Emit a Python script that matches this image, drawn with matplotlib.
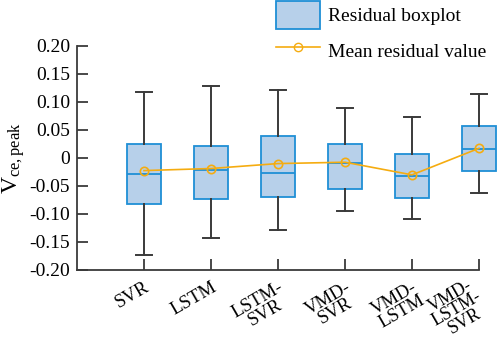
import matplotlib
matplotlib.use("Agg")
import matplotlib.pyplot as plt
import matplotlib.transforms as mtransforms
from matplotlib.patches import Patch
from matplotlib.lines import Line2D

plt.rcParams['font.family'] = ['Liberation Serif', 'DejaVu Serif']
plt.rcParams['mathtext.fontset'] = 'custom'
plt.rcParams['mathtext.rm'] = 'Liberation Serif'
plt.rcParams['mathtext.it'] = 'Liberation Serif:italic'

categories = ["SVR", "LSTM", "LSTM-\nSVR", "VMD-\nSVR", "VMD-\nLSTM", "VMD-\nLSTM-\nSVR"]
whisker_low = [-0.174, -0.143, -0.128, -0.094, -0.109, -0.063]
q1 = [-0.083, -0.0726, -0.070, -0.0548, -0.0714, -0.0227]
median = [-0.029, -0.021, -0.0268, -0.0100, -0.0316, 0.0166]
q3 = [0.0255, 0.022, 0.0398, 0.0243, 0.0077, 0.0564]
whisker_high = [0.117, 0.128, 0.121, 0.0897, 0.0724, 0.114]
mean_vals = [-0.0227, -0.019, -0.0102, -0.0078, -0.0303, 0.017]
yticks = [-0.20, -0.15, -0.10, -0.05, 0, 0.05, 0.10, 0.15, 0.20]
ytick_labels = ["-0.20", "-0.15", "-0.10", "-0.05", "0", "0.05", "0.10", "0.15", "0.20"]

face = '#b7d0ea'
edge = '#1f8fd6'
orange = '#f5ac10'
dark = '#3a3a3a'

fig = plt.figure(figsize=(4.98, 3.42), dpi=100)
ax = fig.add_axes([77/498, 1-270/342, (479-77)/498, (270-45.7)/342])

positions = list(range(1, len(categories) + 1))
stats = []
for i in range(len(categories)):
    stats.append(dict(whislo=whisker_low[i], q1=q1[i], med=median[i], q3=q3[i],
                      whishi=whisker_high[i], fliers=[]))
bp = ax.bxp(stats, positions=positions, widths=0.52, patch_artist=True, showfliers=False,
            boxprops=dict(facecolor=face, edgecolor=edge, linewidth=1.3),
            medianprops=dict(color=edge, linewidth=1.3),
            whiskerprops=dict(color=dark, linewidth=1.4),
            capprops=dict(color=dark, linewidth=1.4),
            capwidths=0.23, zorder=2)
for key in bp:
    for art in bp[key]:
        art.set_clip_on(False)
ln, = ax.plot(positions, mean_vals, color=orange, linewidth=1.2, marker='o', markersize=6,
              markerfacecolor='none', markeredgecolor=orange, markeredgewidth=1.2, zorder=4)
ln.set_clip_on(False)

ax.set_xlim(0, 6)
ax.set_ylim(-0.2, 0.2)
ax.set_yticks(yticks)
ax.set_yticklabels(ytick_labels, fontsize=14)
ax.set_xticks(positions)
labels = ax.set_xticklabels(categories, rotation=30, ha='right', rotation_mode='anchor',
                            multialignment='center', fontsize=13.5, linespacing=0.85)
ax.tick_params(direction='in', length=8, width=1.3, color=dark, pad=5)
ax.tick_params(axis='x', pad=6)
last = labels[-1]
last.set_fontsize(13)
last.set_linespacing(0.8)
last.set_transform(last.get_transform() +
                   mtransforms.ScaledTranslation(-10/100, 3/100, fig.dpi_scale_trans))
for s in ['top', 'right']:
    ax.spines[s].set_visible(False)
for s in ['left', 'bottom']:
    ax.spines[s].set_color(dark)
    ax.spines[s].set_linewidth(1.3)
ax.set_ylabel(r'$\mathrm{V}_{\mathrm{ce,peak}}$', fontsize=17, labelpad=2)

handles = [Patch(facecolor=face, edgecolor=edge, linewidth=1.3),
           Line2D([0], [0], color=orange, linewidth=1.2, marker='o', markersize=6,
                  markerfacecolor='none', markeredgecolor=orange)]
fs = 14
fpx = fs * 100 / 72
fig.legend(handles, ["Residual boxplot", "Mean residual value"], loc='upper left',
           bbox_to_anchor=(276/498, 1 - 1/342), frameon=False, fontsize=fs,
           borderpad=0, borderaxespad=0, handlelength=44/fpx, handleheight=35/fpx,
           handletextpad=8/fpx, labelspacing=8/fpx)

fig.savefig('out.png', dpi=100)
